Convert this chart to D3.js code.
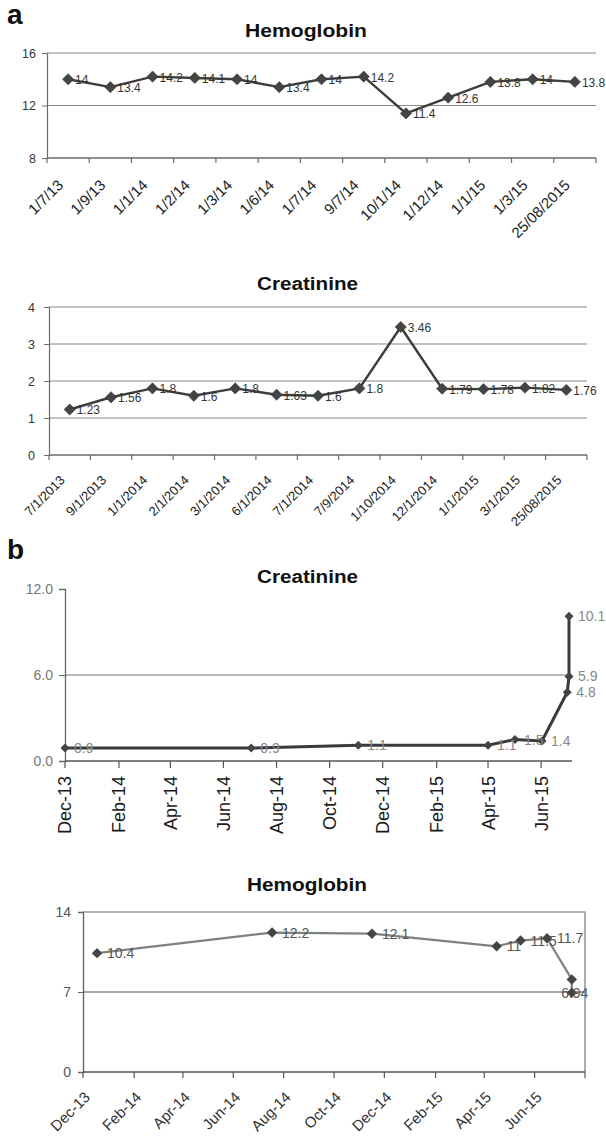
<!DOCTYPE html>
<html><head><meta charset="utf-8">
<script src="https://cdn.jsdelivr.net/npm/d3@7"></script>
<style>body{margin:0;background:#fff}svg{display:block}text{font-family:"Liberation Sans",Arial,sans-serif}</style>
</head><body>
<script>
// ---------- DATA ----------
const hgbA_dates = ["1/7/13","1/9/13","1/1/14","1/2/14","1/3/14","1/6/14","1/7/14","9/7/14","10/1/14","1/12/14","1/1/15","1/3/15","25/08/2015"];
const hgbA_values = [14,13.4,14.2,14.1,14,13.4,14,14.2,11.4,12.6,13.8,14,13.8];
const hgbA_ticks = [8,12,16];

const crA_dates = ["7/1/2013","9/1/2013","1/1/2014","2/1/2014","3/1/2014","6/1/2014","7/1/2014","7/9/2014","1/10/2014","12/1/2014","1/1/2015","3/1/2015","25/08/2015"];
const crA_values = [1.23,1.56,1.8,1.6,1.8,1.63,1.6,1.8,3.46,1.79,1.78,1.82,1.76];
const crA_ticks = [0,1,2,3,4];

const crB_dates = ["2013-12-01","2014-07-03","2014-11-03","2015-04-01","2015-05-02","2015-06-02","2015-07-01","2015-07-03","2015-07-03"];
const crB_values = [0.9,0.9,1.1,1.1,1.5,1.4,4.8,5.9,10.1];
const crB_ticks = [0,6,12];
const crB_tickLabels = ["Dec-13","Feb-14","Apr-14","Jun-14","Aug-14","Oct-14","Dec-14","Feb-15","Apr-15","Jun-15"];

const hgbB_dates = ["2013-12-18","2014-07-18","2014-11-16","2015-04-16","2015-05-15","2015-06-16","2015-07-16","2015-07-16"];
const hgbB_values = [10.4,12.2,12.1,11,11.5,11.7,8.1,6.94];
const hgbB_labels = ["10.4","12.2","12.1","11","11.5","11.7","","6.94"];
const hgbB_ticks = [0,7,14];
const hgbB_tickLabels = ["Dec-13","Feb-14","Apr-14","Jun-14","Aug-14","Oct-14","Dec-14","Feb-15","Apr-15","Jun-15"];

// ---------- SETUP ----------
const svg = d3.select("body").append("svg").attr("width",606).attr("height",1139);
const parseISO = d3.timeParse("%Y-%m-%d");
const parseMon = d3.timeParse("%b-%y");
const diamond = r => `M0,${-r}L${r},0L0,${r}L${-r},0Z`;
const GRID = "#8a8a8a", AXIS = "#6a6a6a", LINE = "#3d3d3d";

function title(txt, cx, y, w){
  svg.append("text").attr("x",cx-w/2).attr("y",y).attr("font-size",18).attr("font-weight","bold")
    .attr("fill","#111").attr("textLength",w).attr("lengthAdjust","spacingAndGlyphs").text(txt);
}
svg.append("text").attr("x",7).attr("y",24).attr("font-size",28).attr("font-weight","bold").attr("fill","#111").text("a");
svg.append("text").attr("x",7).attr("y",559).attr("font-size",28).attr("font-weight","bold").attr("fill","#111").text("b");

// ---------- PANEL A (category axes) ----------
function catPanel(o){
  const g = svg.append("g");
  const x = d3.scaleBand().domain(o.cats).range([o.x0,o.x1]);
  const y = d3.scaleLinear().domain([o.ticks[0], o.ticks[o.ticks.length-1]]).range([o.yBottom,o.yTop]);
  const cx = d => x(d)+x.bandwidth()/2;
  g.selectAll(".grid").data(o.ticks.slice(1)).join("line")
    .attr("x1",o.x0).attr("x2",o.x1).attr("y1",d=>y(d)).attr("y2",d=>y(d))
    .attr("stroke",GRID).attr("stroke-width",1.2);
  const ya = d3.axisLeft(y).tickValues(o.ticks).tickFormat(d3.format("d")).tickSize(5).tickPadding(o.ypad);
  g.append("g").attr("transform",`translate(${o.x0},0)`).call(ya)
    .call(s=>{s.select(".domain").attr("stroke",AXIS).attr("stroke-width",1.2);
      s.selectAll(".tick line").attr("stroke",AXIS);
      s.selectAll("text").attr("font-size",12.5).attr("fill","#333").attr("font-family","Liberation Sans, Arial");});
  g.append("line").attr("x1",o.x0).attr("x2",o.x1).attr("y1",o.yBottom).attr("y2",o.yBottom)
    .attr("stroke",AXIS).attr("stroke-width",1.4);
  const bounds = o.cats.map(d=>x(d)).concat([o.x1]);
  g.selectAll(".bt").data(bounds).join("line").attr("x1",d=>d).attr("x2",d=>d)
    .attr("y1",o.yBottom).attr("y2",o.yBottom+5).attr("stroke",AXIS).attr("stroke-width",1.2);
  g.selectAll(".xl").data(o.cats).join("text")
    .attr("transform",d=>`translate(${cx(d)-4},${o.labY}) rotate(-45)`)
    .attr("text-anchor","end").attr("font-size",o.labSize).attr("fill","#222").text(d=>d);
  const line = d3.line().x((d,i)=>cx(o.cats[i])).y(d=>y(d));
  g.append("path").datum(o.values).attr("d",line).attr("fill","none").attr("stroke",LINE).attr("stroke-width",2.4);
  g.selectAll(".m").data(o.values).join("path").attr("d",diamond(5.6))
    .attr("transform",(d,i)=>`translate(${cx(o.cats[i])},${y(d)})`).attr("fill","#444").attr("stroke","#333").attr("stroke-width",0.6);
  g.selectAll(".dl").data(o.values).join("text")
    .attr("x",(d,i)=>cx(o.cats[i])+7).attr("y",d=>y(d)+5)
    .attr("font-size",12).attr("fill","#333").text(d=>String(d));
}

title("Hemoglobin",306,37,122);
catPanel({cats:hgbA_dates, values:hgbA_values, ticks:hgbA_ticks, x0:47, x1:596, yTop:53, yBottom:158, ypad:6, labY:186, labSize:15});
title("Creatinine",307.5,290,101);
catPanel({cats:crA_dates, values:crA_values, ticks:crA_ticks, x0:49, x1:587, yTop:307, yBottom:455, ypad:9, labY:481, labSize:13});

// ---------- PANEL B (date axes) ----------
(function(){
  const g = svg.append("g");
  const x = d3.scaleTime().domain([parseISO("2013-12-01"),parseISO("2015-07-03")]).range([65,569]);
  const y = d3.scaleLinear().domain([0,12]).range([761,589]);
  g.append("line").attr("x1",65).attr("x2",572).attr("y1",y(6)).attr("y2",y(6)).attr("stroke","#777").attr("stroke-width",1.2);
  const ya = d3.axisLeft(y).tickValues(crB_ticks).tickFormat(d3.format(".1f")).tickSize(6).tickPadding(6);
  g.append("g").attr("transform","translate(65,0)").call(ya)
    .call(s=>{s.select(".domain").attr("stroke","#666").attr("stroke-width",1.3);
      s.selectAll(".tick line").attr("stroke","#666");
      s.selectAll("text").attr("font-size",14).attr("fill","#777").attr("font-family","Liberation Sans, Arial");});
  const tdates = crB_tickLabels.map(parseMon);
  g.append("line").attr("x1",65).attr("x2",572).attr("y1",761).attr("y2",761).attr("stroke","#555").attr("stroke-width",1.5);
  g.selectAll(".t").data(tdates).join("line").attr("x1",d=>x(d)).attr("x2",d=>x(d)).attr("y1",761).attr("y2",768).attr("stroke","#555").attr("stroke-width",1.2);
  g.selectAll(".xl").data(crB_tickLabels).join("text")
    .attr("transform",(d,i)=>`translate(${x(tdates[i])},776) rotate(-90)`).attr("dy","0.36em")
    .attr("text-anchor","end").attr("font-size",18).attr("fill","#1a1a1a").text(d=>d);
  const pts = crB_dates.map((d,i)=>[parseISO(d),crB_values[i]]);
  g.append("path").datum(pts).attr("d",d3.line().x(d=>x(d[0])).y(d=>y(d[1])))
    .attr("fill","none").attr("stroke","#3a3a3a").attr("stroke-width",3);
  g.selectAll(".m").data(pts).join("path").attr("d",diamond(4.5))
    .attr("transform",d=>`translate(${x(d[0])},${y(d[1])})`).attr("fill","#444");
  g.selectAll(".dl").data(pts).join("text").attr("x",d=>x(d[0])+9).attr("y",d=>y(d[1])+5)
    .attr("font-size",14).attr("fill","#888").text(d=>d[1].toFixed(1));
})();
title("Creatinine",307.5,583,101);

(function(){
  const g = svg.append("g");
  const x = d3.scaleTime().domain([parseISO("2013-12-01"),parseISO("2015-08-01")]).range([83,585]);
  const y = d3.scaleLinear().domain([0,14]).range([1072,912]);
  g.append("line").attr("x1",83).attr("x2",585).attr("y1",y(7)).attr("y2",y(7)).attr("stroke","#888").attr("stroke-width",1.6);
  g.append("path").attr("d",`M83,${y(14)}H585V${y(0)}`).attr("fill","none").attr("stroke","#999").attr("stroke-width",1.6);
  const ya = d3.axisLeft(y).tickValues(hgbB_ticks).tickSize(5).tickPadding(7);
  g.append("g").attr("transform","translate(83,0)").call(ya)
    .call(s=>{s.select(".domain").attr("stroke","#666").attr("stroke-width",1.4);
      s.selectAll(".tick line").attr("stroke","#666");
      s.selectAll("text").attr("font-size",14).attr("fill","#555").attr("font-family","Liberation Sans, Arial");});
  const tdates = hgbB_tickLabels.map(parseMon);
  g.append("line").attr("x1",83).attr("x2",585).attr("y1",1072).attr("y2",1072).attr("stroke","#555").attr("stroke-width",1.5);
  g.selectAll(".t").data(tdates.concat([x.domain()[1]])).join("line").attr("x1",d=>x(d)).attr("x2",d=>x(d)).attr("y1",1072).attr("y2",1078).attr("stroke","#555").attr("stroke-width",1.2);
  g.selectAll(".xl").data(hgbB_tickLabels).join("text")
    .attr("transform",(d,i)=>`translate(${x(tdates[i])+8},1098) rotate(-45)`)
    .attr("text-anchor","end").attr("font-size",15).attr("fill","#333").text(d=>d);
  const pts = hgbB_dates.map((d,i)=>[parseISO(d),hgbB_values[i],hgbB_labels[i]]);
  g.append("path").datum(pts).attr("d",d3.line().x(d=>x(d[0])).y(d=>y(d[1])))
    .attr("fill","none").attr("stroke","#808080").attr("stroke-width",2.2);
  g.selectAll(".m").data(pts).join("path").attr("d",diamond(5.2))
    .attr("transform",d=>`translate(${x(d[0])},${y(d[1])})`).attr("fill","#444");
  g.selectAll(".dl").data(pts).join("text")
    .attr("x",(d,i)=>i===pts.length-1 ? x(d[0])+3 : x(d[0])+10)
    .attr("text-anchor",(d,i)=>i===pts.length-1 ? "middle":"start")
    .attr("y",d=>y(d[1])+5)
    .attr("font-size",14).attr("fill","#555").text(d=>d[2]);
})();
title("Hemoglobin",307,891,120);
</script>
</body></html>
